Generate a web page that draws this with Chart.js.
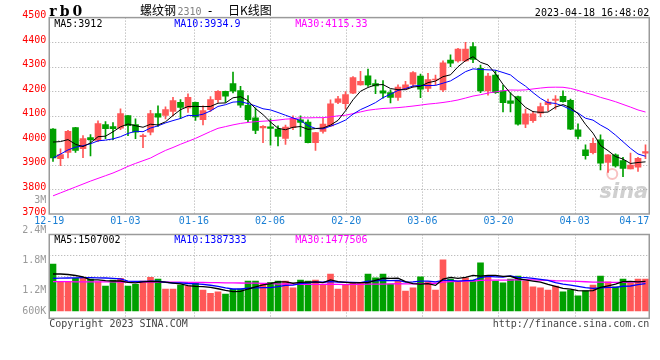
<!DOCTYPE html>
<html><head><meta charset="utf-8">
<script src="https://cdn.jsdelivr.net/npm/chart.js@4/dist/chart.umd.min.js"></script>
<style>html,body{margin:0;padding:0;background:#fff;}canvas{display:block;}</style>
</head><body>
<canvas id="c" width="660" height="360"></canvas>
<script>
// ---------------- data ----------------
const dates = ['12-19','12-20','12-21','12-22','12-23','12-26','12-27','12-28','12-29','12-30',
 '01-03','01-04','01-05','01-06','01-09','01-10','01-11','01-12','01-13','01-16',
 '01-17','01-18','01-19','01-20','01-30','01-31','02-01','02-02','02-03','02-06',
 '02-07','02-08','02-09','02-10','02-13','02-14','02-15','02-16','02-17','02-20',
 '02-21','02-22','02-23','02-24','02-27','02-28','03-01','03-02','03-03','03-06',
 '03-07','03-08','03-09','03-10','03-13','03-14','03-15','03-16','03-17','03-20',
 '03-21','03-22','03-23','03-24','03-27','03-28','03-29','03-30','03-31','04-03',
 '04-04','04-06','04-07','04-10','04-11','04-12','04-13','04-14','04-17','04-18'];
const opens = [4046,3925,3951,4052,3966,4011,4000,4064,4056,4050, 4101,4064,4015,4033,4109,4102,4118,4155,4132,4155,
 4084,4125,4166,4200,4231,4203,4143,4092,4051,4055, 4046,4008,4052,4084,4074,3991,4036,4059,4154,4149,
 4192,4226,4263,4231,4202,4195,4175,4210,4229,4262, 4212,4246,4205,4327,4324,4324,4382,4293,4201,4266,
 4202,4161,4178,4066,4080,4111,4145,4163,4179,4163, 4043,3961,3950,4002,3910,3941,3918,3884,3891,3948];
const highs = [4048,3965,4041,4053,4019,4023,4080,4076,4072,4128, 4101,4088,4026,4122,4141,4137,4175,4166,4190,4156,
 4141,4178,4203,4201,4278,4220,4182,4132,4060,4088, 4059,4062,4100,4100,4084,4033,4090,4165,4179,4199,
 4260,4281,4290,4247,4243,4206,4226,4240,4280,4270, 4273,4266,4324,4348,4375,4399,4398,4307,4273,4284,
 4225,4194,4180,4127,4117,4152,4168,4182,4202,4168, 4067,3982,4009,4022,3942,3945,3931,3948,3931,3982];
const lows = [3914,3897,3928,3951,3929,3937,3995,4007,4003,4044, 4019,4007,3970,4022,4057,4087,4100,4088,4114,4081,
 4063,4118,4155,4155,4193,4134,4076,4027,3991,3980, 3977,3983,4043,4016,3990,3959,4029,4056,4149,4127,
 4190,4225,4220,4190,4172,4152,4163,4206,4218,4174, 4198,4225,4198,4300,4318,4322,4316,4194,4184,4191,
 4116,4116,4062,4052,4073,4095,4120,4127,4156,4043, 4006,3923,3945,3880,3869,3891,3852,3884,3873,3925];
const closes = [3928,3942,4037,3959,4007,4003,4068,4048,4048,4109, 4060,4033,4017,4109,4094,4125,4162,4134,4175,4095,
 4121,4166,4200,4180,4200,4143,4084,4040,4057,4049, 4016,4054,4090,4073,3991,4032,4066,4149,4169,4186,
 4256,4240,4226,4222,4192,4175,4217,4226,4276,4208, 4248,4249,4316,4314,4372,4372,4330,4201,4262,4194,
 4153,4150,4066,4108,4108,4138,4156,4168,4158,4046, 4016,3938,3988,3907,3941,3896,3886,3899,3927,3954];
const ma5 = [3993,3995,4003,3984,3974.6,3989.6,4014.8,4017,4034.8,4055.2, 4066.6,4059.6,4053.4,4065.6,4062.6,4075.6,4101.4,4124.8,4138,4138.2,
 4137.4,4138.2,4151.4,4152.4,4173.4,4177.8,4161.4,4129.4,4104.8,4074.6, 4049.2,4043.2,4053.2,4056.4,4044.8,4048,4050.4,4062.2,4081.4,4120.4,
 4165.2,4200,4215.4,4226,4227.2,4211,4206.4,4206.4,4217.2,4220.4, 4235,4241.4,4259.4,4267,4299.8,4324.6,4340.8,4317.8,4307.4,4271.8,
 4228,4192,4165,4134.2,4117,4114,4115.2,4135.6,4145.6,4133.2, 4108.8,4065.2,4029.2,3979,3958,3934,3923.6,3905.8,3909.8,3912.4];
const ma10 = [3928,3944,3961,3972,3978,3986,3998,4001,4006,4014.9, 4028.1,4037.2,4035.2,4050.2,4058.9,4071.1,4080.5,4089.1,4101.8,4100.4,
 4106.5,4119.8,4138.1,4145.2,4155.8,4157.6,4149.8,4140.4,4128.6,4124, 4113.5,4102.3,4091.3,4080.6,4059.7,4048.6,4046.8,4057.7,4068.9,4082.6,
 4106.6,4125.2,4138.8,4153.7,4173.8,4188.1,4203.2,4210.9,4221.6,4223.8, 4223,4223.9,4232.9,4242.1,4260.1,4279.8,4291.1,4288.6,4287.2,4285.8,
 4276.3,4266.4,4241.4,4220.8,4194.4,4171,4153.6,4150.3,4139.9,4125.1, 4111.4,4090.2,4082.4,4062.3,4045.6,4021.4,3994.4,3967.5,3944.4,3935.2];
const ma30 = [3774,3786,3798,3810,3822,3834,3845,3856,3867,3880, 3894,3906,3917,3928,3944,3959,3971,3984,3996,4008,
 4022,4036,4049,4056,4063,4069,4073,4076,4078,4079.8, 4082.7,4086.4,4088.2,4092,4091.5,4092.4,4092.4,4095.7,4099.8,4102.3,
 4108.9,4115.8,4122.7,4126.5,4129.8,4131.4,4133.3,4136.3,4139.7,4143.5, 4147.7,4150.5,4154.3,4158.8,4164.5,4172.2,4180.4,4185.7,4192.6,4197.4,
 4202,4205.2,4204.4,4205.5,4209.4,4213,4216,4216.6,4216.2,4211.6, 4203.6,4193.5,4185.6,4175.1,4166.7,4157.4,4146.4,4135.5,4123.8,4115.4];
// volume, in thousands
const volumes = [2397,1494,1494,1668,1668,1632,1494,1275,1581,1668, 1275,1362,1530,1719,1632,1122,1122,1326,1275,1443,
 1071,903,984,867,1107,1122,1530,1530,1362,1464, 1530,1530,1188,1581,1530,1581,1362,1887,1122,1362,
 1443,1443,1887,1698,1887,1377,1530,1020,1188,1749, 1494,1071,2616,1632,1530,1698,1581,2463,1785,1530,
 1443,1632,1785,1530,1239,1188,1071,1275,984,1071, 780,1035,1326,1785,1494,1239,1632,1413,1632,1632];
const volMa5 = [1887,1887,1862,1811,1744,1591,1591,1547,1530,1530, 1459,1432,1483,1511,1503,1473,1425,1384,1295,1258,
 1247,1204,1135,1054,986,997,1122,1231,1330,1401, 1483,1483,1415,1459,1472,1482,1448,1588,1496,1463,
 1435,1451,1451,1567,1672,1659,1676,1502,1400,1373, 1396,1305,1624,1713,1669,1710,1812,1781,1812,1812,
 1761,1771,1635,1584,1526,1475,1363,1261,1152,1118, 1036,1029,1039,1200,1284,1376,1495,1513,1482,1510];
const volMa10 = [1668,1673,1683,1693,1698,1698,1693,1683,1663,1637, 1525,1512,1515,1520,1517,1466,1429,1434,1403,1381,
 1360,1314,1260,1175,1122,1122,1163,1183,1192,1194, 1240,1303,1323,1394,1437,1483,1466,1501,1477,1467,
 1459,1450,1520,1532,1567,1547,1564,1477,1484,1522, 1527,1490,1563,1557,1521,1553,1558,1702,1762,1740,
 1735,1791,1708,1698,1669,1618,1567,1448,1368,1322, 1256,1196,1150,1176,1201,1206,1262,1276,1341,1397];
const volMa30 = [1494,1494,1494,1489,1489,1489,1484,1484,1484,1479, 1479,1479,1479,1474,1474,1474,1469,1469,1464,1459,
 1454,1448,1443,1438,1433,1428,1423,1418,1408,1404, 1375,1376,1366,1363,1359,1357,1353,1373,1358,1347,
 1353,1356,1367,1367,1375,1384,1397,1387,1384,1394, 1409,1414,1469,1494,1508,1527,1529,1560,1574,1576,
 1574,1577,1597,1595,1586,1572,1563,1542,1538,1528, 1506,1492,1474,1476,1464,1459,1462,1475,1490,1486];
const priceTicks = [3700,3800,3900,4000,4100,4200,4300,4400,4500];
const volTickValues = [600,1200,1800,2400,3000];
const volTickLabels = ['600K','1.2M','1.8M','2.4M','3M'];
const xTickLabels = ['12-19','01-03','01-16','02-06','02-20','03-06','03-20','04-03','04-17'];
const priceLegend = ['MA5:3912','MA10:3934.9','MA30:4115.33'];
const volLegend = ['MA5:1507002','MA10:1387333','MA30:1477506'];
const titleCode = 'rb0';
const titleName = '螺纹钢', titleContract = '2310', titleKind = '日K线图';
const stamp = '2023-04-18 16:48:02';
const copyright = 'Copyright 2023 SINA.COM';
const siteUrl = 'http://finance.sina.com.cn';

// ---------------- layout / style ----------------
const L = 49.25, R = 649.25;
const MAIN_TOP = 17.6, MAIN_BOT = 214, VOL_TOP = 234.5, AREA_BOT = 318.3;
const VOL_BASE = 311, VOL_K_PER_PX = 51;          // bar scale
const VLAB_ZERO_PX = 350, VLAB_K_PER_PX = 20;      // label scale
const VOL_GRID_STEP = 20.5;
const GRID_X_MAX = 78.8;
const pricePerPx = (priceTicks[priceTicks.length-1] - priceTicks[0]) / (MAIN_BOT - MAIN_TOP);
const yMax = priceTicks[priceTicks.length-1];
const yMin = yMax - (AREA_BOT - MAIN_TOP) * pricePerPx;
const MONO = "'DejaVu Sans Mono', monospace";
const UP = '#ff5757', DOWN = '#00a000';
const GRID = '#a8a8a8', BORDER = '#9a9a9a';
const LEG_COLORS = ['#000000', '#0000ff', '#ff00ff'];
const candleColors = closes.map((c, i) => c >= opens[i] ? UP : DOWN);

const sinaPlugin = {
  id: 'sinaK',
  beforeDraw(chart) {
    const c = chart.ctx; c.save(); c.fillStyle = '#fff'; c.fillRect(0, 0, chart.width, chart.height); c.restore();
  },
  beforeDatasetsDraw(chart) {
    const { ctx, chartArea: a, scales } = chart;
    const y = scales.y, xg = scales.xg;
    const top = y.getPixelForValue(yMax), bot = y.getPixelForValue(priceTicks[0]);
    ctx.save();
    ctx.strokeStyle = GRID; ctx.lineWidth = 1; ctx.setLineDash([1, 2]);
    ctx.beginPath();
    priceTicks.slice(1, -1).forEach(v => {
      const py = Math.round(y.getPixelForValue(v)) + 0.5;
      ctx.moveTo(a.left, py); ctx.lineTo(a.right, py);
    });
    for (let k = 1; k <= 3; k++) {
      const py = Math.round(VOL_TOP + k * VOL_GRID_STEP) + 0.5;
      ctx.moveTo(a.left, py); ctx.lineTo(a.right, py);
    }
    xTickLabels.forEach(lbl => {
      const px = xg.getPixelForValue(dates.indexOf(lbl));
      if (px < a.left + 3 || px > a.right - 10) return;
      const x = Math.round(px) + 0.5;
      ctx.moveTo(x, top); ctx.lineTo(x, bot);
      ctx.moveTo(x, VOL_TOP); ctx.lineTo(x, a.bottom);
    });
    ctx.stroke();
    ctx.setLineDash([]);
    // watermark
    ctx.font = "italic bold 21px 'DejaVu Sans', sans-serif";
    ctx.fillStyle = 'rgba(150,150,150,0.45)';
    ctx.textAlign = 'right'; ctx.textBaseline = 'alphabetic';
    ctx.fillText('sina', a.right - 1, bot - 16);
    ctx.strokeStyle = 'rgba(240,120,120,0.45)'; ctx.lineWidth = 2;
    ctx.beginPath(); ctx.arc(a.right - 37, bot - 40, 5, 0, Math.PI * 2); ctx.stroke();
    ctx.restore();
  },
  afterDraw(chart) {
    const { ctx, chartArea: a, scales } = chart;
    const y = scales.y, xg = scales.xg, yv = scales.yv, yl = scales.yl;
    const top = y.getPixelForValue(yMax), bot = y.getPixelForValue(priceTicks[0]);
    ctx.save();
    // borders
    ctx.strokeStyle = BORDER; ctx.lineWidth = 1.5;
    ctx.strokeRect(a.left, top, a.right - a.left, bot - top);
    ctx.strokeRect(a.left, VOL_TOP, a.right - a.left, a.bottom - VOL_TOP);
    // legends
    ctx.font = '10px ' + MONO; ctx.textAlign = 'left'; ctx.textBaseline = 'alphabetic';
    const legX = [a.left + 5, a.left + 125, a.left + 246];
    priceLegend.forEach((t, k) => { ctx.fillStyle = LEG_COLORS[k]; ctx.fillText(t, legX[k], top + 9.5); });
    volLegend.forEach((t, k) => { ctx.fillStyle = LEG_COLORS[k]; ctx.fillText(t, legX[k], VOL_TOP + 8); });
    // x labels
    ctx.fillStyle = '#1a7fd4'; ctx.textBaseline = 'middle';
    xTickLabels.forEach(lbl => {
      const px = xg.getPixelForValue(dates.indexOf(lbl));
      const w = ctx.measureText(lbl).width;
      let left = px - w / 2;
      if (left + w > a.right) left = a.right - w;
      ctx.fillText(lbl, left, bot + 7.5);
    });
    // volume labels
    ctx.fillStyle = '#9a9a9a'; ctx.textAlign = 'right';
    const base = yv.getPixelForValue(0);
    volTickValues.forEach((v, k) => {
      const py = Math.min(yl.getPixelForValue(v), base);
      ctx.fillText(volTickLabels[k], a.left - 3, py);
    });
    // header
    ctx.textBaseline = 'alphabetic';
    ctx.textAlign = 'left'; ctx.fillStyle = '#000';
    ctx.font = "bold 14px 'DejaVu Serif', serif";
    if ('letterSpacing' in ctx) ctx.letterSpacing = '3px';
    ctx.fillText(titleCode, a.left, 16);
    if ('letterSpacing' in ctx) ctx.letterSpacing = '0px';
    ctx.font = "12px 'Noto Sans CJK SC', sans-serif";
    ctx.fillText(titleName, 140, 15);
    ctx.fillStyle = '#808080'; ctx.font = '10px ' + MONO;
    ctx.fillText(titleContract, 177.5, 15);
    ctx.fillStyle = '#000'; ctx.font = '12px ' + MONO;
    ctx.fillText('-', 206.5, 15);
    ctx.font = "12px 'Noto Sans CJK SC', sans-serif";
    ctx.fillText(titleKind, 228, 15);
    ctx.font = '10px ' + MONO; ctx.textAlign = 'right';
    ctx.fillText(stamp, a.right, 16);
    // footer
    ctx.fillStyle = '#444';
    ctx.textAlign = 'left'; ctx.fillText(copyright, a.left, 327);
    ctx.textAlign = 'right'; ctx.fillText(siteUrl, a.right, 327);
    ctx.restore();
  }
};

const lineDs = (data, color, axis, w) => ({
  type: 'line', data, xAxisID: 'x', yAxisID: axis, borderColor: color, borderWidth: w,
  pointRadius: 0, tension: 0, fill: false, order: 0
});

new Chart(document.getElementById('c'), {
  type: 'bar',
  data: {
    labels: dates,
    datasets: [
      lineDs(ma5, LEG_COLORS[0], 'y', 1),
      lineDs(ma10, LEG_COLORS[1], 'y', 1),
      lineDs(ma30, LEG_COLORS[2], 'y', 1),
      lineDs(volMa5, LEG_COLORS[0], 'yv', 1.3),
      lineDs(volMa10, LEG_COLORS[1], 'yv', 1.3),
      lineDs(volMa30, LEG_COLORS[2], 'yv', 1.3),
      { type: 'bar', data: opens.map((o, i) => [o, closes[i]]), xAxisID: 'x', yAxisID: 'y',
        backgroundColor: candleColors, barThickness: 6, minBarLength: 1, grouped: false,
        borderWidth: 0, borderSkipped: false, order: 1 },
      { type: 'bar', data: lows.map((l, i) => [l, highs[i]]), xAxisID: 'x', yAxisID: 'y',
        backgroundColor: candleColors, barThickness: 1, grouped: false, borderWidth: 0, order: 2 },
      { type: 'bar', data: volumes, xAxisID: 'x', yAxisID: 'yv',
        backgroundColor: candleColors, barThickness: 6, grouped: false, borderWidth: 0, order: 3 }
    ]
  },
  options: {
    responsive: false, animation: false, devicePixelRatio: 1,
    layout: { padding: { left: 0, top: MAIN_TOP, right: 660 - R, bottom: 360 - AREA_BOT } },
    plugins: { legend: { display: false }, tooltip: { enabled: false } },
    scales: {
      x: { type: 'category', display: false, offset: true, grid: { display: false } },
      xg: { type: 'linear', axis: 'x', position: 'bottom', display: false, offset: false, min: 0, max: GRID_X_MAX },
      y: {
        type: 'linear', position: 'left', min: yMin, max: yMax,
        afterFit(s) { s.width = L; },
        afterBuildTicks(s) { s.ticks = priceTicks.map(v => ({ value: v })); },
        grid: { display: false, drawTicks: false }, border: { display: false },
        ticks: { color: '#ff0000', font: { family: MONO, size: 10 }, padding: 3, labelOffset: -2,
          autoSkip: false, callback: v => String(v) }
      },
      yv: { type: 'linear', display: false,
        min: -(AREA_BOT - VOL_BASE) * VOL_K_PER_PX, max: (VOL_BASE - MAIN_TOP) * VOL_K_PER_PX },
      yl: { type: 'linear', display: false,
        min: (VLAB_ZERO_PX - AREA_BOT) * VLAB_K_PER_PX, max: (VLAB_ZERO_PX - MAIN_TOP) * VLAB_K_PER_PX }
    }
  },
  plugins: [sinaPlugin]
});
</script>
</body></html>
